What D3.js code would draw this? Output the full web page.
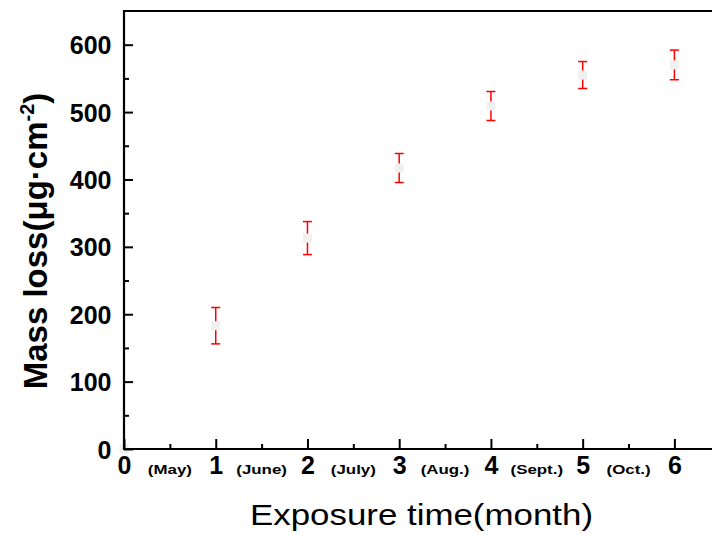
<!DOCTYPE html>
<html>
<head>
<meta charset="utf-8">
<script src="https://cdn.jsdelivr.net/npm/d3@7"></script>
<style>
  html, body { margin: 0; padding: 0; background: #fff; }
  svg { display: block; font-family: "Liberation Sans", Arial, sans-serif; }
</style>
</head>
<body>
<svg id="chart" width="712" height="536"></svg>
<script>
// ---- data ----
const months = [0, 1, 2, 3, 4, 5, 6];
const massLoss = [0, 183, 313, 417, 509, 555, 570];
const errorBars = [0, 27, 24.5, 21.5, 21.5, 20, 22];
const monthNames = ["(May)", "(June)", "(July)", "(Aug.)", "(Sept.)", "(Oct.)"];
const monthNamePos = [0.5, 1.5, 2.5, 3.5, 4.5, 5.5];
const xTicks = [0, 1, 2, 3, 4, 5, 6];
const xMinorTicks = [0.5, 1.5, 2.5, 3.5, 4.5, 5.5];
const yTicks = [0, 100, 200, 300, 400, 500, 600];
const yMinorTicks = [50, 150, 250, 350, 450, 550];

const svg = d3.select("#chart");
const pLeft = 124, pRight = 712, pTop = 11, pBottom = 449;

const x = d3.scaleLinear().domain([0, 6.41]).range([pLeft, pRight]);
const y = d3.scaleLinear().domain([0, 650]).range([pBottom, pTop]);

const data = months.map((m, i) => ({ m, v: massLoss[i], e: errorBars[i] }));

// ---- markers & error bars ----
const pts = svg.append("g");
const ms = 9, cap = 9;
pts.selectAll("rect").data(data).enter().append("rect")
  .attr("x", d => x(d.m) - ms / 2)
  .attr("y", d => y(d.v) - ms / 2)
  .attr("width", ms).attr("height", ms)
  .attr("fill", "#f0f0f0");

const eb = pts.selectAll("g.eb").data(data.filter(d => d.e > 0)).enter().append("g")
  .attr("stroke", "#ff0000").attr("stroke-width", 1.5).attr("fill", "none");
eb.append("line")
  .attr("x1", d => x(d.m)).attr("x2", d => x(d.m))
  .attr("y1", d => y(d.v + d.e)).attr("y2", d => y(d.v) - ms / 2);
eb.append("line")
  .attr("x1", d => x(d.m)).attr("x2", d => x(d.m))
  .attr("y1", d => y(d.v) + ms / 2).attr("y2", d => y(d.v - d.e));
eb.append("line")
  .attr("x1", d => x(d.m) - cap / 2).attr("x2", d => x(d.m) + cap / 2)
  .attr("y1", d => y(d.v + d.e)).attr("y2", d => y(d.v + d.e));
eb.append("line")
  .attr("x1", d => x(d.m) - cap / 2).attr("x2", d => x(d.m) + cap / 2)
  .attr("y1", d => y(d.v - d.e)).attr("y2", d => y(d.v - d.e));

// ---- axes ----
const xAxis = svg.append("g").attr("transform", `translate(0,${pBottom})`)
  .call(d3.axisBottom(x).tickValues(xTicks).tickSizeInner(-10).tickSizeOuter(0).tickPadding(14).tickFormat(d3.format("d")));
xAxis.select(".domain").remove();
xAxis.selectAll(".tick line").attr("stroke", "#000").attr("stroke-width", 2);
xAxis.selectAll(".tick text").attr("font-size", 25).attr("font-weight", "bold").attr("fill", "#000")
  .attr("y", 24.5).attr("dy", 0);

const xMinor = svg.append("g").attr("transform", `translate(0,${pBottom})`)
  .call(d3.axisBottom(x).tickValues(xMinorTicks).tickSizeInner(-5).tickSizeOuter(0).tickFormat(""));
xMinor.select(".domain").remove();
xMinor.selectAll(".tick line").attr("stroke", "#000").attr("stroke-width", 2);

const yAxis = svg.append("g").attr("transform", `translate(${pLeft},0)`)
  .call(d3.axisLeft(y).tickValues(yTicks).tickSizeInner(-9).tickSizeOuter(0).tickPadding(12.5).tickFormat(d3.format("d")));
yAxis.select(".domain").remove();
yAxis.selectAll(".tick line").attr("stroke", "#000").attr("stroke-width", 2);
yAxis.selectAll(".tick text").attr("font-size", 25).attr("font-weight", "bold").attr("fill", "#000")
  .attr("dy", "0.36em");

const yMinor = svg.append("g").attr("transform", `translate(${pLeft},0)`)
  .call(d3.axisLeft(y).tickValues(yMinorTicks).tickSizeInner(-5).tickSizeOuter(0).tickFormat(""));
yMinor.select(".domain").remove();
yMinor.selectAll(".tick line").attr("stroke", "#000").attr("stroke-width", 2);

// frame lines
svg.append("line").attr("x1", pLeft).attr("x2", pRight).attr("y1", pBottom).attr("y2", pBottom)
  .attr("stroke", "#000").attr("stroke-width", 2.2);
svg.append("line").attr("x1", pLeft).attr("x2", pRight).attr("y1", pTop).attr("y2", pTop)
  .attr("stroke", "#000").attr("stroke-width", 2.2);
svg.append("line").attr("x1", pLeft).attr("x2", pLeft).attr("y1", pTop - 1).attr("y2", pBottom + 1)
  .attr("stroke", "#000").attr("stroke-width", 2.2);

// month names
svg.append("g").selectAll("text").data(monthNames).enter().append("text")
  .attr("transform", (d, i) => `translate(${x(monthNamePos[i])},${pBottom + 25}) scale(1.25,1)`)
  .attr("text-anchor", "middle")
  .attr("font-size", 13.5).attr("font-weight", "bold").attr("fill", "#000")
  .text(d => d);

// axis titles
svg.append("text")
  .attr("x", 421.5).attr("y", 524.5)
  .attr("text-anchor", "middle")
  .attr("font-size", 30).attr("fill", "#000")
  .attr("textLength", 343).attr("lengthAdjust", "spacingAndGlyphs")
  .text("Exposure time(month)");

const yt = svg.append("text")
  .attr("transform", "translate(47,241) rotate(-90)")
  .attr("text-anchor", "middle")
  .attr("font-size", 33).attr("font-weight", "bold").attr("fill", "#000");
yt.append("tspan").text("Mass loss(μg·cm");
yt.append("tspan").attr("font-size", 20).attr("dy", -13).text("-2");
yt.append("tspan").attr("dy", 13).text(")");
</script>
</body>
</html>
